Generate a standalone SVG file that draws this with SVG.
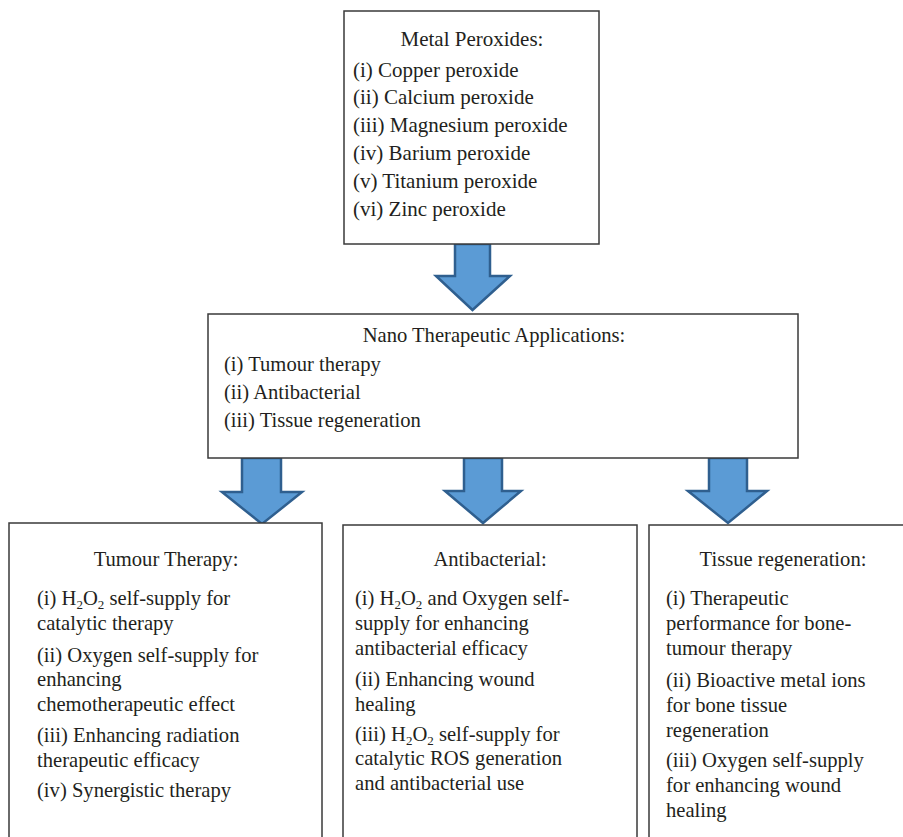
<svg xmlns="http://www.w3.org/2000/svg" width="903" height="837" viewBox="0 0 903 837">
<style>
.box{fill:#ffffff;stroke:#3a3a3a;stroke-width:1.5}
.arr{fill:#5B9BD5;stroke:#2F5F8F;stroke-width:2.5;stroke-linejoin:miter}
text{font-family:"Times New Roman","Liberation Serif",Tinos,serif;font-size:20.6px;fill:#231f20}
.big{font-size:21px}
.c{text-anchor:middle}
.sub{font-size:13px}
</style>
<rect width="903" height="837" fill="#ffffff"/>
<g id="connectors">
<polygon class="arr" points="455,244 490,244 490,276 510,276 472.5,310 436,276 455,276"/>
<polygon class="arr" points="242,458 281,458 281,492 302,492 262,524 222,492 242,492"/>
<polygon class="arr" points="464,458 502,458 502,491 521,491 483,523 445,491 464,491"/>
<polygon class="arr" points="709,458 747,458 747,491 767,491 728,523 688,491 709,491"/>
</g>
<g id="metal-peroxides">
<rect class="box" x="344" y="11" width="255" height="233"/>
<text class="big c" x="472" y="46">Metal Peroxides:</text>
<text class="big" x="353" y="77">(i) Copper peroxide</text>
<text class="big" x="353" y="104">(ii) Calcium peroxide</text>
<text class="big" x="353" y="132">(iii) Magnesium peroxide</text>
<text class="big" x="353" y="160">(iv) Barium peroxide</text>
<text class="big" x="353" y="188">(v) Titanium peroxide</text>
<text class="big" x="353" y="216">(vi) Zinc peroxide</text>
</g>
<g id="nano-applications">
<rect class="box" x="208" y="314" width="590" height="144"/>
<text class="c" x="494" y="342">Nano Therapeutic Applications:</text>
<text x="224" y="371">(i) Tumour therapy</text>
<text x="224" y="399">(ii) Antibacterial</text>
<text x="224" y="427">(iii) Tissue regeneration</text>
</g>
<g id="tumour-therapy">
<rect class="box" x="9" y="523" width="313" height="330"/>
<text class="c" x="166" y="566">Tumour Therapy:</text>
<text x="37" y="605">(i) H<tspan class="sub" dy="4">2</tspan><tspan dy="-4">O</tspan><tspan class="sub" dy="4">2</tspan><tspan dy="-4"> self-supply for</tspan></text>
<text x="37" y="630">catalytic therapy</text>
<text x="37" y="662">(ii) Oxygen self-supply for</text>
<text x="37" y="686">enhancing</text>
<text x="37" y="711">chemotherapeutic effect</text>
<text x="37" y="742">(iii) Enhancing radiation</text>
<text x="37" y="767">therapeutic efficacy</text>
<text x="37" y="797">(iv) Synergistic therapy</text>
</g>
<g id="antibacterial">
<rect class="box" x="343" y="525" width="294" height="330"/>
<text class="c" x="490" y="566">Antibacterial:</text>
<text x="355" y="605">(i) H<tspan class="sub" dy="4">2</tspan><tspan dy="-4">O</tspan><tspan class="sub" dy="4">2</tspan><tspan dy="-4"> and Oxygen self-</tspan></text>
<text x="355" y="630">supply for enhancing</text>
<text x="355" y="655">antibacterial efficacy</text>
<text x="355" y="686">(ii) Enhancing wound</text>
<text x="355" y="711">healing</text>
<text x="355" y="741">(iii) H<tspan class="sub" dy="4">2</tspan><tspan dy="-4">O</tspan><tspan class="sub" dy="4">2</tspan><tspan dy="-4"> self-supply for</tspan></text>
<text x="355" y="765">catalytic ROS generation</text>
<text x="355" y="790">and antibacterial use</text>
</g>
<g id="tissue-regeneration">
<rect class="box" x="649" y="525" width="270" height="330"/>
<text class="c" x="783" y="566">Tissue regeneration:</text>
<text x="666" y="605">(i) Therapeutic</text>
<text x="666" y="630">performance for bone-</text>
<text x="666" y="655">tumour therapy</text>
<text x="666" y="687">(ii) Bioactive metal ions</text>
<text x="666" y="712">for bone tissue</text>
<text x="666" y="737">regeneration</text>
<text x="666" y="767">(iii) Oxygen self-supply</text>
<text x="666" y="792">for enhancing wound</text>
<text x="666" y="817">healing</text>
</g>
</svg>
